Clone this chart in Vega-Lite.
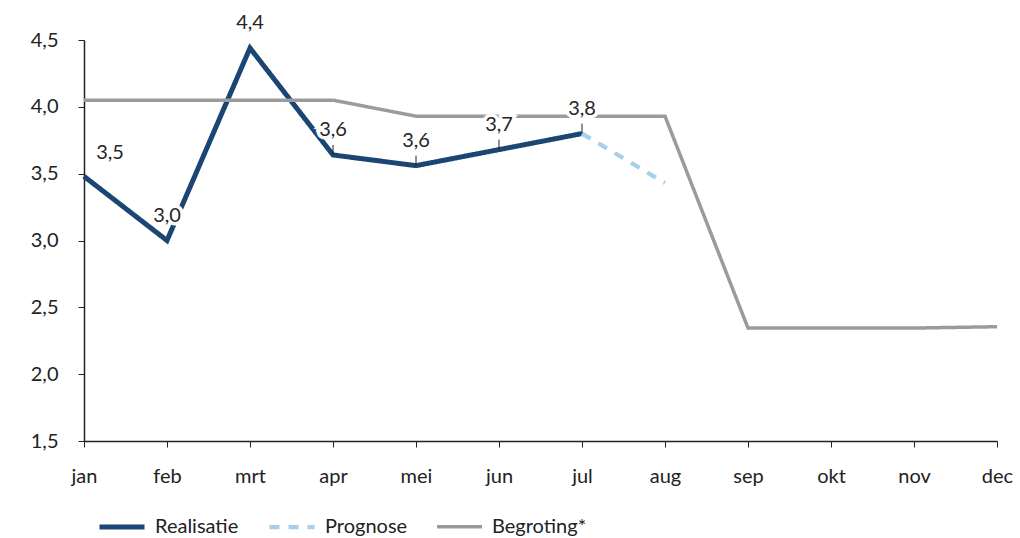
{
  "$schema": "https://vega.github.io/schema/vega-lite/v6.json",
  "width": 913,
  "height": 401,
  "autosize": {"type": "none"},
  "padding": {"left": 84, "top": 40, "right": 23, "bottom": 97},
  "config": {
    "view": {"stroke": null},
    "font": "Lato",
    "locale": {"number": {"decimal": ",", "thousands": ".", "grouping": [3], "currency": ["€", ""]}}
  },
  "data": {
    "values": [
      {"month": "jan", "series": "Realisatie", "value": 3.48},
      {"month": "feb", "series": "Realisatie", "value": 3.0},
      {"month": "mrt", "series": "Realisatie", "value": 4.44},
      {"month": "apr", "series": "Realisatie", "value": 3.64},
      {"month": "mei", "series": "Realisatie", "value": 3.56},
      {"month": "jun", "series": "Realisatie", "value": 3.68},
      {"month": "jul", "series": "Realisatie", "value": 3.8},
      {"month": "jul", "series": "Prognose", "value": 3.8},
      {"month": "aug", "series": "Prognose", "value": 3.43},
      {"month": "jan", "series": "Begroting*", "value": 4.05},
      {"month": "feb", "series": "Begroting*", "value": 4.05},
      {"month": "mrt", "series": "Begroting*", "value": 4.05},
      {"month": "apr", "series": "Begroting*", "value": 4.05},
      {"month": "mei", "series": "Begroting*", "value": 3.93},
      {"month": "jun", "series": "Begroting*", "value": 3.93},
      {"month": "jul", "series": "Begroting*", "value": 3.93},
      {"month": "aug", "series": "Begroting*", "value": 3.93},
      {"month": "sep", "series": "Begroting*", "value": 2.345},
      {"month": "okt", "series": "Begroting*", "value": 2.345},
      {"month": "nov", "series": "Begroting*", "value": 2.345},
      {"month": "dec", "series": "Begroting*", "value": 2.355}
    ]
  },
  "encoding": {
    "x": {
      "field": "month",
      "type": "nominal",
      "scale": {"type": "point", "padding": 0, "domain": ["jan", "feb", "mrt", "apr", "mei", "jun", "jul", "aug", "sep", "okt", "nov", "dec"]},
      "axis": {
        "title": null,
        "labelAngle": 0,
        "labelFontSize": 20,
        "labelColor": "#222222",
        "labelPadding": 19,
        "tickSize": 6,
        "tickColor": "#222222",
        "domainColor": "#222222",
        "domainWidth": 1.5,
        "grid": false
      }
    },
    "y": {
      "field": "value",
      "type": "quantitative",
      "scale": {"domain": [1.5, 4.5], "nice": false, "zero": false},
      "axis": {
        "title": null,
        "values": [1.5, 2, 2.5, 3, 3.5, 4, 4.5],
        "format": ".1f",
        "labelFontSize": 20,
        "labelColor": "#222222",
        "labelPadding": 20,
        "tickSize": 6,
        "tickColor": "#222222",
        "domainColor": "#222222",
        "domainWidth": 1.5,
        "grid": false
      }
    }
  },
  "layer": [
    {
      "mark": {"type": "line", "strokeCap": "butt", "strokeJoin": "miter"},
      "encoding": {
        "color": {
          "field": "series",
          "type": "nominal",
          "scale": {"domain": ["Realisatie", "Prognose", "Begroting*"], "range": ["#1b4674", "#a9d0ea", "#9b9b9b"]},
          "legend": {
            "title": null,
            "orient": "none",
            "direction": "horizontal",
            "legendX": 13,
            "legendY": 462,
            "symbolType": "stroke",
            "symbolSize": 2025,
            "symbolStrokeWidth": 6,
            "labelFontSize": 20,
            "labelColor": "#222222",
            "labelOffset": 8,
            "columnPadding": 22,
            "padding": 0
          }
        },
        "strokeDash": {
          "field": "series",
          "type": "nominal",
          "scale": {"domain": ["Realisatie", "Prognose", "Begroting*"], "range": [[1, 0], [10, 9], [1, 0]]},
          "legend": {
            "title": null,
            "orient": "none",
            "direction": "horizontal",
            "legendX": 13,
            "legendY": 462,
            "symbolType": "stroke",
            "symbolSize": 2025,
            "symbolStrokeWidth": 6,
            "labelFontSize": 20,
            "labelColor": "#222222",
            "labelOffset": 8,
            "columnPadding": 22,
            "padding": 0
          }
        },
        "strokeWidth": {
          "field": "series",
          "type": "nominal",
          "scale": {"domain": ["Realisatie", "Prognose", "Begroting*"], "range": [5, 3.5, 3.5]},
          "legend": null
        }
      }
    },
    {
      "transform": [
        {"filter": {"field": "series", "equal": "Realisatie"}},
        {"filter": {"field": "month", "oneOf": ["apr", "mei", "jun", "jul"]}}
      ],
      "mark": {"type": "rule", "y2Offset": -10, "color": "#222222", "strokeWidth": 1},
      "encoding": {"y2": {"field": "value"}}
    },
    {
      "transform": [
        {"filter": {"field": "series", "equal": "Realisatie"}},
        {"filter": {"field": "month", "oneOf": ["feb", "mrt", "apr", "mei", "jun", "jul"]}}
      ],
      "mark": {"type": "text", "dy": -25, "fontSize": 20, "fill": "white", "stroke": "white", "strokeWidth": 7, "baseline": "middle"},
      "encoding": {"text": {"field": "value", "type": "quantitative", "format": ".1f"}}
    },
    {
      "transform": [
        {"filter": {"field": "series", "equal": "Realisatie"}},
        {"filter": {"field": "month", "oneOf": ["feb", "mrt", "apr", "mei", "jun", "jul"]}}
      ],
      "mark": {"type": "text", "dy": -25, "fontSize": 20, "color": "#262626", "baseline": "middle"},
      "encoding": {"text": {"field": "value", "type": "quantitative", "format": ".1f"}}
    },
    {
      "transform": [
        {"filter": {"field": "series", "equal": "Realisatie"}},
        {"filter": {"field": "month", "equal": "jan"}}
      ],
      "mark": {"type": "text", "dx": 26, "dy": -23, "fontSize": 20, "color": "#262626", "baseline": "middle"},
      "encoding": {"text": {"field": "value", "type": "quantitative", "format": ".1f"}}
    }
  ]
}
